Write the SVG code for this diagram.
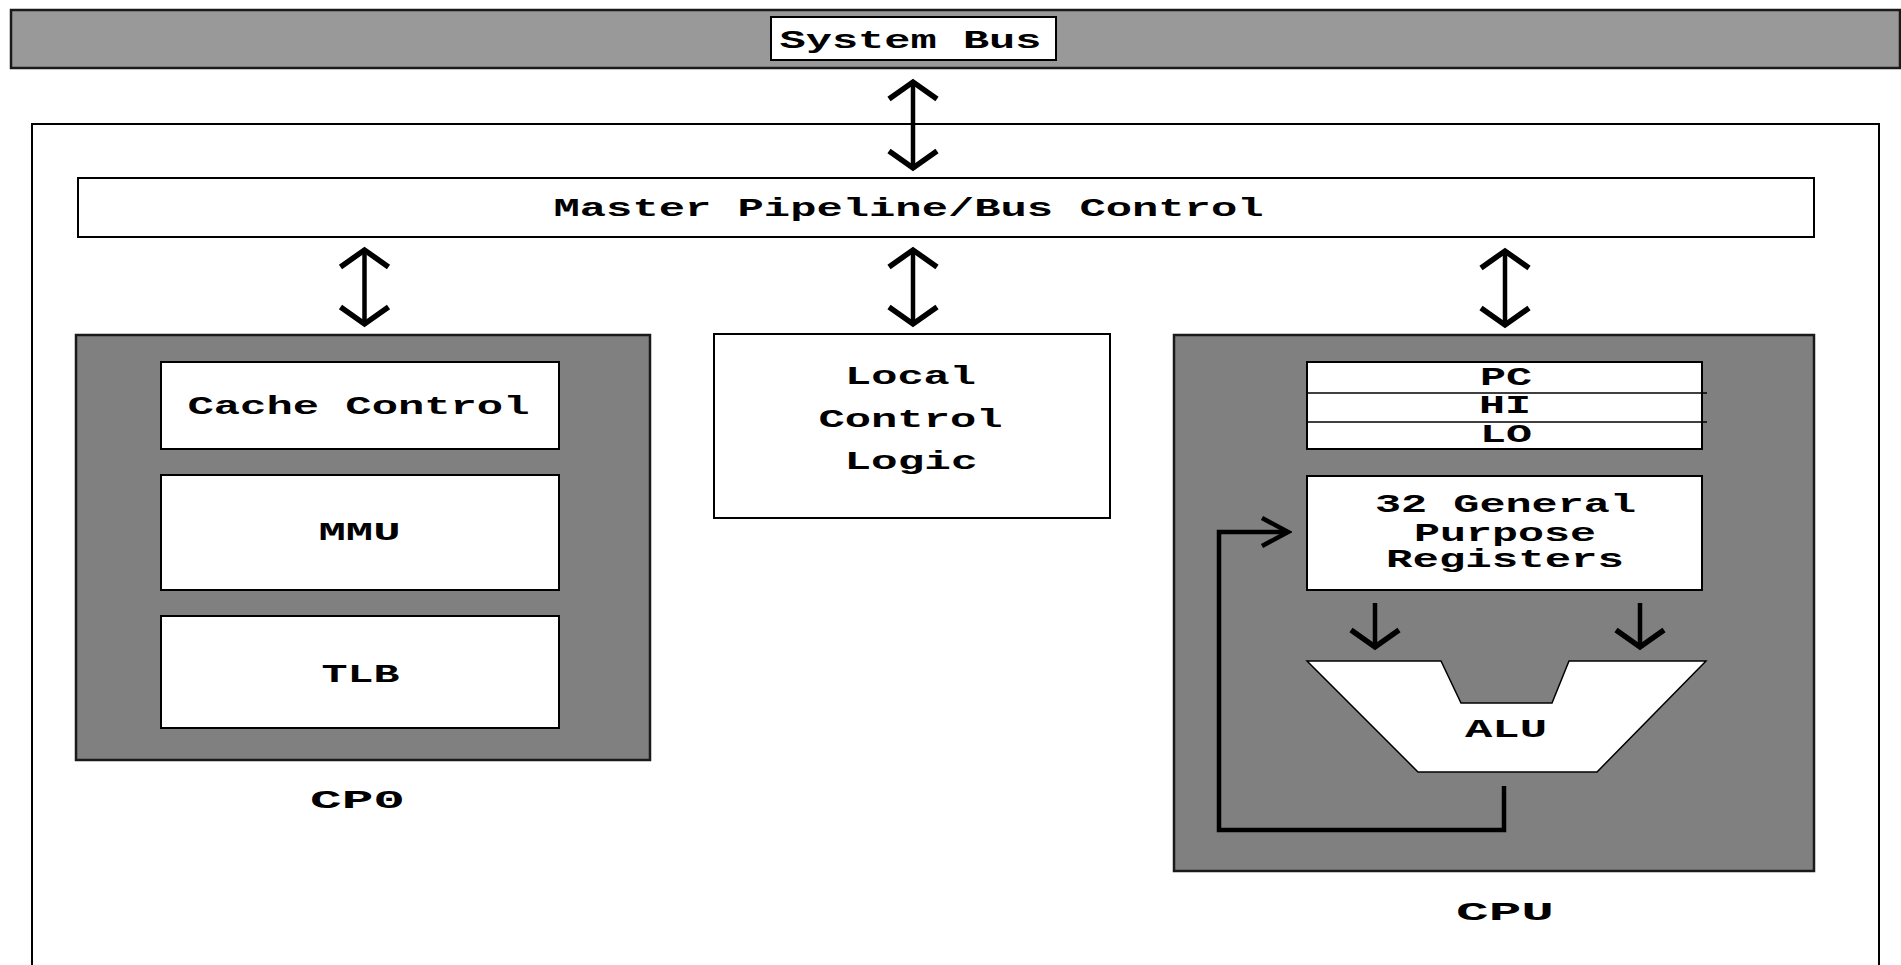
<svg xmlns="http://www.w3.org/2000/svg" width="1901" height="965" viewBox="0 0 1901 965">
  <style>
    .box { fill: #ffffff; stroke: #000000; stroke-width: 2; }
    .shade { fill: #808080; stroke: #1a1a1a; stroke-width: 2.5; }
    .bus { fill: #999999; stroke: #1a1a1a; stroke-width: 2.5; }
    .lbl { font-family: "Courier New", "Liberation Mono", monospace; font-size: 25px; font-weight: bold; fill: #000000; text-anchor: middle; }
    .wire { fill: none; stroke: #000000; stroke-width: 4.5; }
    .div { stroke: #000000; stroke-width: 1.5; }
  </style>
  <defs>
    <marker id="chev" viewBox="-22 -28 26 56" refX="0" refY="0" markerWidth="26" markerHeight="56" markerUnits="userSpaceOnUse" orient="auto-start-reverse">
      <path d="M-17,-24 L0,0 L-17,24" fill="none" stroke="#000" stroke-width="5.5" stroke-linejoin="miter"/>
    </marker>
    <marker id="chevNarrow" viewBox="-30 -18 34 36" refX="0" refY="0" markerWidth="34" markerHeight="36" markerUnits="userSpaceOnUse" orient="auto">
      <path d="M-26,-14 L0,0 L-26,14" fill="none" stroke="#000" stroke-width="4.5" stroke-linejoin="miter"/>
    </marker>
  </defs>

  <rect width="1901" height="965" fill="#ffffff"/>

  <!-- system bus strip -->
  <g id="system-bus">
    <rect class="bus" x="11" y="10" width="1889" height="58"/>
    <rect class="box" x="771" y="17" width="285" height="43"/>
    <text class="lbl" x="910.5" y="48" textLength="262" lengthAdjust="spacingAndGlyphs">System Bus</text>
  </g>

  <!-- processor outline (runs past the lower edge) -->
  <g id="processor">
    <rect class="box" x="32" y="124" width="1847" height="900"/>
  </g>

  <g id="master-pipeline">
    <rect class="box" x="78" y="178" width="1736" height="59"/>
    <text class="lbl" x="908.5" y="216" textLength="710" lengthAdjust="spacingAndGlyphs">Master Pipeline/Bus Control</text>
  </g>

  <!-- coprocessor 0 -->
  <g id="cp0">
    <rect class="shade" x="76" y="335" width="574" height="425"/>
    <text class="lbl" x="357.5" y="808" textLength="95" lengthAdjust="spacingAndGlyphs">CP0</text>
  </g>
  <g id="cache-control">
    <rect class="box" x="161" y="362" width="398" height="87"/>
    <text class="lbl" x="358.5" y="414" textLength="342" lengthAdjust="spacingAndGlyphs">Cache Control</text>
  </g>
  <g id="mmu">
    <rect class="box" x="161" y="475" width="398" height="115"/>
    <text class="lbl" x="359.5" y="540" textLength="82" lengthAdjust="spacingAndGlyphs">MMU</text>
  </g>
  <g id="tlb">
    <rect class="box" x="161" y="616" width="398" height="112"/>
    <text class="lbl" x="360.5" y="682" textLength="78" lengthAdjust="spacingAndGlyphs">TLB</text>
  </g>

  <g id="local-control">
    <rect class="box" x="714" y="334" width="396" height="184"/>
    <text class="lbl" x="910.5" y="384" textLength="131" lengthAdjust="spacingAndGlyphs">Local</text>
    <text class="lbl" x="910.5" y="427" textLength="184" lengthAdjust="spacingAndGlyphs">Control</text>
    <text class="lbl" x="911" y="469" textLength="133" lengthAdjust="spacingAndGlyphs">Logic</text>
  </g>

  <!-- integer CPU -->
  <g id="cpu">
    <rect class="shade" x="1174" y="335" width="640" height="536"/>
    <text class="lbl" x="1505" y="920" textLength="98" lengthAdjust="spacingAndGlyphs">CPU</text>
  </g>
  <g id="special-registers">
    <rect class="box" x="1307" y="362" width="395" height="87"/>
    <line class="div" x1="1307" y1="393" x2="1707" y2="393"/>
    <line class="div" x1="1307" y1="422" x2="1707" y2="422"/>
    <text class="lbl" x="1506" y="385" textLength="52" lengthAdjust="spacingAndGlyphs">PC</text>
    <text class="lbl" x="1505" y="413" textLength="52" lengthAdjust="spacingAndGlyphs">HI</text>
    <text class="lbl" x="1506" y="442" textLength="52" lengthAdjust="spacingAndGlyphs">LO</text>
  </g>
  <g id="gpr">
    <rect class="box" x="1307" y="476" width="395" height="114"/>
    <text class="lbl" x="1505.5" y="512" textLength="261" lengthAdjust="spacingAndGlyphs">32 General</text>
    <text class="lbl" x="1505" y="541" textLength="182" lengthAdjust="spacingAndGlyphs">Purpose</text>
    <text class="lbl" x="1505" y="567" textLength="238" lengthAdjust="spacingAndGlyphs">Registers</text>
  </g>
  <g id="alu">
    <polygon points="1307,661 1441,661 1461,703 1552,703 1569,661 1706,661 1597,772 1418,772" fill="#ffffff" stroke="#000" stroke-width="1.5"/>
    <text class="lbl" x="1506" y="737" textLength="82" lengthAdjust="spacingAndGlyphs">ALU</text>
  </g>

  <!-- data paths -->
  <g id="connectors">
    <line class="wire" x1="913" y1="82" x2="913" y2="168" marker-start="url(#chev)" marker-end="url(#chev)"/>
    <line class="wire" x1="364.5" y1="250" x2="364.5" y2="324" marker-start="url(#chev)" marker-end="url(#chev)"/>
    <line class="wire" x1="913" y1="250" x2="913" y2="324" marker-start="url(#chev)" marker-end="url(#chev)"/>
    <line class="wire" x1="1505" y1="251" x2="1505" y2="325" marker-start="url(#chev)" marker-end="url(#chev)"/>
    <line class="wire" x1="1375" y1="603" x2="1375" y2="647" marker-end="url(#chev)"/>
    <line class="wire" x1="1640" y1="603" x2="1640" y2="647" marker-end="url(#chev)"/>
    <path class="wire" d="M1504,786 V830 H1219 V532 H1288" marker-end="url(#chevNarrow)"/>
  </g>
</svg>
